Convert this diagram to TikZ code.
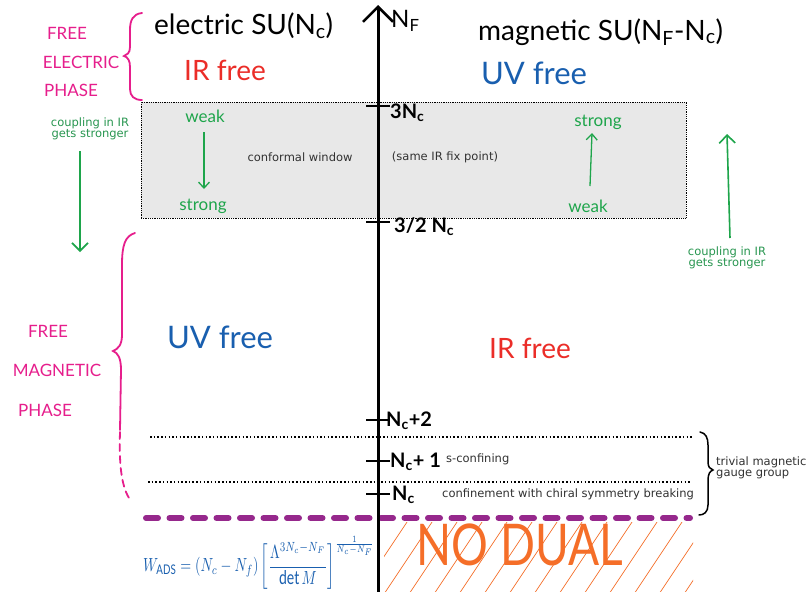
\documentclass[tikz,border=0pt]{standalone}
\usepackage{fontspec}
\usepackage{amsmath}
\usetikzlibrary{arrows.meta}
\setmainfont{Lato}
\newfontfamily\handf{Lato}
\newfontfamily\tahf{DejaVu Sans}
\newcommand{\fsz}[1]{\fontsize{#1}{#1}\selectfont}
\newcommand{\sbs}[1]{\textsubscript{#1}}
\definecolor{hred}{RGB}{235,45,40}
\definecolor{hblue}{RGB}{25,95,175}
\definecolor{hpink}{RGB}{230,30,140}
\definecolor{hgreen}{RGB}{30,165,75}
\definecolor{tgreen}{RGB}{40,150,80}
\definecolor{hpurple}{RGB}{150,40,140}
\definecolor{horange}{RGB}{245,110,40}
\definecolor{boxgray}{RGB}{232,232,232}
\definecolor{tgray}{RGB}{50,50,50}
\tikzset{
  hand/.style={inner sep=0pt, font=\handf\fsz{#1}},
  hand/.default=24,
  smalltxt/.style={inner sep=0pt, font=\tahf\fsz{11.5}, align=center},
  ticklab/.style={inner sep=0pt, font=\handf\bfseries\fsz{20}, anchor=west},
  pinktxt/.style={inner sep=0pt, font=\handf\fsz{17}, text=hpink},
  garrow/.style={draw=hgreen, line width=1.6pt, -{Straight Barb[length=8pt,width=16pt]}},
  gsmallarrow/.style={draw=hgreen, line width=1.3pt, -{Straight Barb[length=6pt,width=11pt]}},
  axisline/.style={line width=3pt, -{Straight Barb[length=15pt,width=30pt,line width=2.5pt]}},
  tickline/.style={line width=2.5pt},
  pinkline/.style={draw=hpink, line width=1.8pt, line cap=round},
  bracel/.style={line width=1.5pt, line cap=round},
  dotline/.style={line width=1.5pt, dash pattern=on 1.5pt off 2.2pt},
  purpledash/.style={draw=hpurple, line width=6pt, line cap=round, dash pattern=on 12pt off 11.5pt},
  hatch/.style={draw=horange, line width=0.7pt},
  cwbox/.style={draw, densely dotted, line width=0.8pt, fill=boxgray, inner sep=0pt}
}
\begin{document}
\begin{tikzpicture}[x=1pt,y=-1pt]
\useasboundingbox (0,0) rectangle (809,592);
\fill[white] (0,0) rectangle (809,592);

% conformal window box
\node[cwbox, minimum width=545pt, minimum height=116pt] (cw) at (413.5,160) {};

% hatching of the no-dual region
\begin{scope}
\clip (384,522) rectangle (693,592);
\foreach \i in {0,...,15} {
  \coordinate (ha\i) at (330+\i*25,600);
  \draw[hatch] (ha\i) -- ++(52,-78);
}
\end{scope}

% dotted lines
\coordinate (d1a) at (150,437); \coordinate (d1b) at (692,437);
\coordinate (d2a) at (148,482); \coordinate (d2b) at (690,482);
\draw[dotline] (d1a) -- (d1b);
\draw[dotline] (d2a) -- (d2b);

% purple dashed line
\coordinate (pa) at (146,518); \coordinate (pb) at (690,518);
\draw[purpledash] (pa) -- (pb);

% axis
\coordinate (axbot) at (378,600);
\coordinate (axtop) at (378,5);
\draw[axisline] (axbot) -- (axtop);
\node[inner sep=0pt, font=\handf\fsz{24}, anchor=west] (nf) at (391,21) {N\sbs{F}};

% ticks and labels
\foreach \yy/\nm in {106/a,222/b,420/c,461/d,494/e} {
  \coordinate (tl\nm) at (366,\yy);
  \coordinate (tr\nm) at (390,\yy);
  \draw[tickline] (tl\nm) -- (tr\nm);
}
\node[ticklab] (l3) at (390,113) {3N\sbs{c}};
\node[ticklab] (l32) at (394,227) {3/2 N\sbs{c}};
\node[ticklab] (lc2) at (386,421) {N\sbs{c}+2};
\node[ticklab] (lc1) at (390,462) {N\sbs{c}+ 1};
\node[ticklab] (lc0) at (392,495) {N\sbs{c}};

% titles
\node[hand=28, anchor=west] (el) at (154,26) {electric SU(N\sbs{c})};
\node[hand=28, anchor=west] (mag) at (478,32) {magnetic SU(N\sbs{F}-N\sbs{c})};
\node[hand=28, text=hred] (irf1) at (225,70) {IR free};
\node[hand=31, text=hblue] (uvf1) at (534,73) {UV free};
\node[hand=31, text=hblue] (uvf2) at (220,337) {UV free};
\node[hand=28, text=hred] (irf2) at (530,348) {IR free};

% pink phase labels
\node[pinktxt] (fe1) at (67,33) {FREE};
\node[pinktxt] (fe2) at (81,62) {ELECTRIC};
\node[pinktxt] (fe3) at (71,90) {PHASE};
\node[pinktxt] (fm1) at (48,331) {FREE};
\node[pinktxt] (fm2) at (57,370) {MAGNETIC};
\node[pinktxt] (fm3) at (45,410) {PHASE};

% pink braces
\draw[pinkline] (142,13) .. controls (133,14) and (130,20) .. (130,30) -- (130,47)
  .. controls (130,53) and (127,55) .. (124,56) .. controls (128,57) and (130,61) .. (130,67)
  -- (130,89) .. controls (130,96) and (134,100) .. (142,100);
\draw[pinkline] (135,233) .. controls (125,236) and (122,245) .. (122,265) -- (122,335)
  .. controls (122,345) and (118,349) .. (113,351) .. controls (118,353) and (121,358) .. (121,370)
  -- (120,430);
\draw[pinkline, dash pattern=on 7pt off 5pt] (120,432) .. controls (119,462) and (121,485) .. (129,498);

% right black brace
\draw[bracel] (700,432) .. controls (706,433) and (708,438) .. (708,445) -- (708,462)
  .. controls (708,467) and (710,469) .. (713,470) .. controls (710,471) and (708,474) .. (708,480)
  -- (708,505) .. controls (708,512) and (704,515) .. (699,515);
\node[smalltxt, align=left, anchor=west, text=tgray] (triv) at (716,468) {trivial magnetic\\[-1pt]gauge group};

% texts in regions
\node[smalltxt, text=tgray] (cwt) at (300,157) {conformal window};
\node[smalltxt, text=tgray] (sip) at (445,157) {(same IR fix point)};
\node[smalltxt, text=tgray, anchor=west] (sconf) at (446,459) {s-confining};
\node[smalltxt, text=tgray, anchor=west] (conf) at (442,494) {confinement with chiral symmetry breaking};

% green weak/strong inside box
\node[hand=17, text=hgreen] (wk1) at (205,116) {weak};
\node[hand=17, text=hgreen] (st1) at (203,206) {strong};
\draw[gsmallarrow] (204,132) -- (204,189);
\node[hand=17, text=hgreen] (st2) at (598,122) {strong};
\node[hand=17, text=hgreen] (wk2) at (588,206) {weak};
\coordinate (a2s) at (590,186); \coordinate (a2e) at (592,133);
\draw[gsmallarrow] (a2s) -- (a2e);

% coupling arrows outside
\node[smalltxt, text=tgreen] (cl) at (90,129) {coupling in IR\\[-1pt]gets stronger};
\coordinate (cla) at (80,151); \coordinate (clb) at (80,252);
\draw[garrow] (cla) -- (clb);
\node[smalltxt, text=tgreen] (cr) at (727,258) {coupling in IR\\[-1pt]gets stronger};
\coordinate (cra) at (730,238); \coordinate (crb) at (727,134);
\draw[garrow] (cra) -- (crb);

% no dual
\node[inner sep=0pt, font=\handf\fsz{46}, text=horange] (nd) at (520,545) {\scalebox{1}[1.25]{NO DUAL}};

% formula
\node[inner sep=0pt, anchor=west, text=hblue] (wads) at (143,563)
  {\scalebox{1.4}[1.9]{$\displaystyle W_{\mathrm{ADS}}=(N_c-N_f)\left[\frac{\Lambda^{3N_c-N_F}}{\det M}\right]^{\frac{1}{N_c-N_F}}$}};
\end{tikzpicture}
\end{document}
